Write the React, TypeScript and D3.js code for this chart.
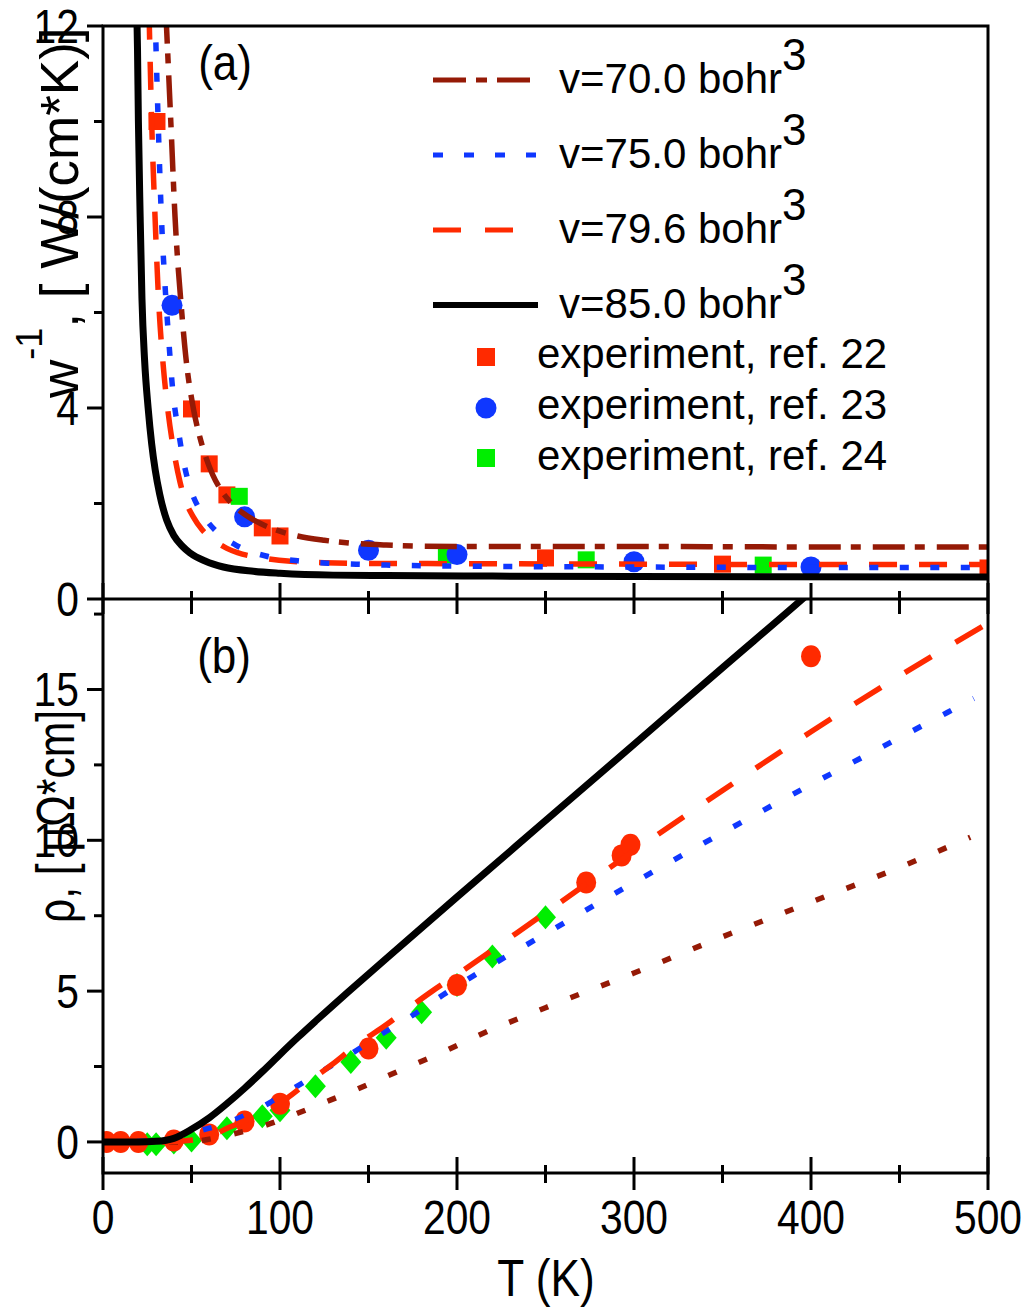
import React from 'react';
import * as d3 from 'd3';

type Pt = [number, number];

// ---- panel (a): w^-1 vs T ----
const kappaV70: Pt[] = [[35.5, 12.3], [38.3, 10], [40.7, 8], [44.5, 6], [47, 5.0], [51, 4.0], [55, 3.35], [58, 2.98], [62, 2.6], [66, 2.32], [72, 2.03], [79, 1.8], [89, 1.58], [99, 1.43], [110, 1.32], [125, 1.23], [140, 1.17], [160, 1.13], [200, 1.1], [300, 1.1], [400, 1.09], [500, 1.09]];
const kappaV75: Pt[] = [[29.4, 12.3], [31, 10.2], [33, 8.0], [35, 6.6], [37, 5.5], [39.6, 4.3], [42.7, 3.5], [45.4, 2.9], [50, 2.25], [55, 1.85], [58.5, 1.65], [66, 1.35], [75, 1.13], [92, 0.9], [110, 0.8], [127, 0.75], [143, 0.73], [160, 0.71], [200, 0.69], [300, 0.67], [400, 0.66], [500, 0.66]];
const kappaV796: Pt[] = [[26, 12.3], [27.5, 10], [29.4, 8], [31.5, 6.2], [34, 4.9], [36.5, 4.0], [40, 3.1], [43.5, 2.45], [47, 2.02], [51, 1.72], [56, 1.45], [62, 1.25], [70, 1.06], [76, 0.97], [90, 0.86], [106, 0.79], [125, 0.76], [150, 0.745], [200, 0.74], [300, 0.73], [400, 0.72], [500, 0.72]];
const kappaV85: Pt[] = [[18.5, 13.5], [19.5, 11.5], [20, 10], [21, 8], [22, 6.3], [23.5, 5.0], [25.5, 4.0], [27.5, 3.25], [29.5, 2.7], [32, 2.2], [36, 1.65], [40, 1.33], [45, 1.1], [49, 0.97], [58, 0.79], [68, 0.67], [85, 0.58], [100, 0.54], [130, 0.5], [160, 0.49], [220, 0.48], [300, 0.47], [500, 0.46]];

const expRef22: Pt[] = [[30.5, 10.0], [50, 3.98], [60, 2.83], [70, 2.18], [90, 1.49], [100, 1.32], [250, 0.86], [350, 0.73], [500, 0.65]];
const expRef23: Pt[] = [[39, 6.15], [80, 1.72], [150, 1.02], [200, 0.93], [300, 0.78], [400, 0.67]];
const expRef24: Pt[] = [[77, 2.15], [194, 0.92], [273, 0.82], [373, 0.71]];

// ---- panel (b): rho vs T ----
const rhoV70: Pt[] = [[0, 0], [30, 0], [50, 0], [54, 0.03], [71, 0.23], [89, 0.5], [106, 0.86], [123, 1.26], [140, 1.66], [158, 2.12], [175, 2.55], [192, 2.98], [209, 3.45], [250, 4.45], [300, 5.6], [350, 6.8], [400, 7.95], [450, 9.1], [490, 10.1]];
const rhoV75: Pt[] = [[0, 0], [40, 0.05], [51, 0.3], [70, 0.63], [89, 1.13], [106, 1.72], [124, 2.35], [141, 2.95], [158, 3.6], [175, 4.2], [192, 4.87], [250, 6.9], [300, 8.6], [350, 10.25], [400, 11.85], [450, 13.4], [492, 14.7]];
const rhoV796: Pt[] = [[0, 0], [30, 0], [45, 0.03], [60, 0.18], [72, 0.5], [80, 0.7], [91, 1.0], [104, 1.45], [115, 1.95], [129, 2.55], [143, 3.2], [158, 3.8], [173, 4.45], [186, 5.0], [200, 5.55], [250, 7.6], [300, 9.65], [350, 11.65], [400, 13.6], [450, 15.45], [500, 17.2]];
const rhoV85: Pt[] = [[0, 0], [20, 0], [30, 0.02], [40, 0.12], [50, 0.42], [60, 0.8], [70, 1.27], [80, 1.78], [90, 2.33], [100, 2.9], [110, 3.46], [120, 4.0], [130, 4.53], [140, 5.05], [160, 6.08], [200, 8.12], [250, 10.65], [300, 13.18], [350, 15.72], [400, 18.25], [420, 19.3]];

const rhoExpCircles: Pt[] = [[2, 0], [10, 0], [20, 0], [40, 0.05], [60, 0.25], [80, 0.68], [100, 1.27], [150, 3.1], [200, 5.2], [273, 8.6], [293, 9.5], [298, 9.85], [400, 16.1]];
const rhoExpDiamonds: Pt[] = [[25, -0.08], [30, -0.08], [40, -0.02], [50, 0.05], [70, 0.45], [90, 0.85], [100, 1.05], [120, 1.85], [140, 2.65], [160, 3.45], [180, 4.3], [200, 5.2], [220, 6.15], [250, 7.45]];

// ticks
const xMajor = [0, 100, 200, 300, 400, 500];
const xMinor = [50, 150, 250, 350, 450];
const yAMajor = [0, 4, 8, 12];
const yAMinor = [2, 6, 10];
const yBMajor = [0, 5, 10, 15];
const yBMinor = [2.5, 7.5, 12.5, 17.5];

const legendLines = ['v=70.0 bohr', 'v=75.0 bohr', 'v=79.6 bohr', 'v=85.0 bohr'];
const legendExp = ['experiment, ref. 22', 'experiment, ref. 23', 'experiment, ref. 24'];

const DARKRED = '#951a06';
const BLUE = '#0f37ff';
const RED = '#ff2a00';
const GREEN = '#00ee00';
const FONT = '"Liberation Sans", Arial, sans-serif';

const X0 = 103, X1 = 988, TOP = 26, MID = 599, BOT = 1173;

const x = d3.scaleLinear().domain([0, 500]).range([X0, X1]);
const yA = d3.scaleLinear().domain([0, 12]).range([MID, TOP]);
const yB = d3.scaleLinear().domain([-1.03, 18]).range([BOT, MID]);

const lineA = d3.line<Pt>().x(d => x(d[0])).y(d => yA(d[1])).curve(d3.curveMonotoneX);
const lineB = d3.line<Pt>().x(d => x(d[0])).y(d => yB(d[1])).curve(d3.curveMonotoneX);

const Txt = ({ x, y, size, sx = 1, anchor = 'start', children }: any) => (
  <text transform={`translate(${x},${y}) scale(${sx},1)`} fontSize={size} fontFamily={FONT} textAnchor={anchor} fill="#000">
    {children}
  </text>
);

export default function App() {
  const ax = { stroke: '#000', strokeWidth: 3 };
  return (
    <svg width={1031} height={1308} style={{ position: 'absolute', left: 0, top: 0, background: '#fff' }}>
      <defs>
        <clipPath id="clipA"><rect x={X0} y={TOP} width={X1 - X0} height={MID - TOP} /></clipPath>
        <clipPath id="clipB"><rect x={X0} y={MID} width={X1 - X0} height={BOT - MID} /></clipPath>
      </defs>

      {/* panel (a) */}
      <g clipPath="url(#clipA)">
        {expRef22.map((d, i) => <rect key={'s' + i} x={x(d[0]) - 8.5} y={yA(d[1]) - 8.5} width={17} height={17} fill={RED} />)}
        {expRef24.map((d, i) => <rect key={'g' + i} x={x(d[0]) - 8.5} y={yA(d[1]) - 8.5} width={17} height={17} fill={GREEN} />)}
        {expRef23.map((d, i) => <circle key={'c' + i} cx={x(d[0])} cy={yA(d[1])} r={10.5} fill={BLUE} />)}
        <path d={lineA(kappaV85)!} fill="none" stroke="#000" strokeWidth={7} />
        <path d={lineA(kappaV796)!} fill="none" stroke={RED} strokeWidth={5.5} strokeDasharray="28,22" />
        <path d={lineA(kappaV75)!} fill="none" stroke={BLUE} strokeWidth={5.5} strokeDasharray="9,21.5" />
        <path d={lineA(kappaV70)!} fill="none" stroke={DARKRED} strokeWidth={5.5} strokeDasharray="32,10,10,12" />
      </g>

      {/* panel (b) */}
      <g clipPath="url(#clipB)">
        {rhoExpDiamonds.map((d, i) => {
          const cx = x(d[0]), cy = yB(d[1]);
          return <polygon key={'d' + i} points={`${cx},${cy - 12} ${cx + 10.5},${cy} ${cx},${cy + 12} ${cx - 10.5},${cy}`} fill={GREEN} />;
        })}
        {rhoExpCircles.map((d, i) => <ellipse key={'r' + i} cx={x(d[0])} cy={yB(d[1])} rx={10} ry={11} fill={RED} />)}
        <path d={lineB(rhoV70)!} fill="none" stroke={DARKRED} strokeWidth={5.5} strokeDasharray="9,24" />
        <path d={lineB(rhoV75)!} fill="none" stroke={BLUE} strokeWidth={5.5} strokeDasharray="9,25" />
        <path d={lineB(rhoV796)!} fill="none" stroke={RED} strokeWidth={5.5} strokeDasharray="31,28" />
        <path d={lineB(rhoV85)!} fill="none" stroke="#000" strokeWidth={7} />
      </g>

      {/* frames */}
      <rect x={X0} y={TOP} width={X1 - X0} height={BOT - TOP} fill="none" {...ax} />
      <line x1={X0} x2={X1} y1={MID} y2={MID} {...ax} />

      {/* y ticks */}
      {yAMajor.map(v => <line key={'ya' + v} x1={X0 - 16} x2={X0} y1={yA(v)} y2={yA(v)} {...ax} />)}
      {yAMinor.map(v => <line key={'yam' + v} x1={X0 - 9} x2={X0} y1={yA(v)} y2={yA(v)} {...ax} />)}
      {yBMajor.map(v => <line key={'yb' + v} x1={X0 - 16} x2={X0} y1={yB(v)} y2={yB(v)} {...ax} />)}
      {yBMinor.map(v => <line key={'ybm' + v} x1={X0 - 9} x2={X0} y1={yB(v)} y2={yB(v)} {...ax} />)}
      {/* shared middle line: ticks up into (a), down into (b) */}
      {xMajor.map(v => <line key={'xa' + v} x1={x(v)} x2={x(v)} y1={MID - 16} y2={MID + 15} {...ax} />)}
      {xMinor.map(v => <line key={'xam' + v} x1={x(v)} x2={x(v)} y1={MID - 8} y2={MID + 15} {...ax} />)}
      {/* bottom ticks cross the axis */}
      {xMajor.map(v => <line key={'xb' + v} x1={x(v)} x2={x(v)} y1={BOT - 16} y2={BOT + 17} {...ax} />)}
      {xMinor.map(v => <line key={'xbm' + v} x1={x(v)} x2={x(v)} y1={BOT - 8} y2={BOT + 10} {...ax} />)}

      {/* tick labels */}
      {yAMajor.map(v => <Txt key={'la' + v} x={79} y={yA(v) + 17} size={48} sx={0.85} anchor="end">{v}</Txt>)}
      {yBMajor.map(v => <Txt key={'lb' + v} x={79} y={yB(v) + 17} size={48} sx={0.85} anchor="end">{v}</Txt>)}
      {xMajor.map(v => <Txt key={'lx' + v} x={x(v)} y={1234} size={48} sx={0.85} anchor="middle">{v}</Txt>)}

      {/* axis titles */}
      <Txt x={546} y={1296} size={52} sx={0.85} anchor="middle">T (K)</Txt>
      <text transform="translate(78,398) rotate(-90)" fontSize={53} fontFamily={FONT} fill="#000">
        <tspan>w</tspan>
        <tspan fontSize={36} dy={-36}>-1</tspan>
        <tspan dy={36}>, [ W/(cm*K)]</tspan>
      </text>
      <text transform="translate(74,923) rotate(-90)" fontSize={54} fontFamily={FONT} fill="#000" textLength={213} lengthAdjust="spacingAndGlyphs">
        ρ, [ μΩ*cm]
      </text>

      <Txt x={225} y={80} size={50} sx={0.88} anchor="middle">(a)</Txt>
      <Txt x={224} y={673} size={50} sx={0.88} anchor="middle">(b)</Txt>

      {/* legend */}
      <line x1={433} x2={530} y1={80} y2={80} stroke={DARKRED} strokeWidth={5} strokeDasharray="33,10,11,10" />
      <line x1={433} x2={536} y1={155} y2={155} stroke={BLUE} strokeWidth={5} strokeDasharray="10,21" />
      <line x1={433} x2={513} y1={230} y2={230} stroke={RED} strokeWidth={5} strokeDasharray="28,24" />
      <line x1={433} x2={538} y1={305} y2={305} stroke="#000" strokeWidth={6} />
      {legendLines.map((t, i) => (
        <text key={t} x={559} y={93 + i * 75} fontSize={42} fontFamily={FONT} fill="#000">
          {t}<tspan dy={-23} fontSize={44}>3</tspan>
        </text>
      ))}
      <rect x={477} y={348} width={18} height={18} fill={RED} />
      <circle cx={486} cy={408} r={10.5} fill={BLUE} />
      <rect x={477} y={449} width={18} height={18} fill={GREEN} />
      {legendExp.map((t, i) => (
        <text key={t} x={537} y={368 + i * 51} fontSize={42} fontFamily={FONT} fill="#000">{t}</text>
      ))}
    </svg>
  );
}
